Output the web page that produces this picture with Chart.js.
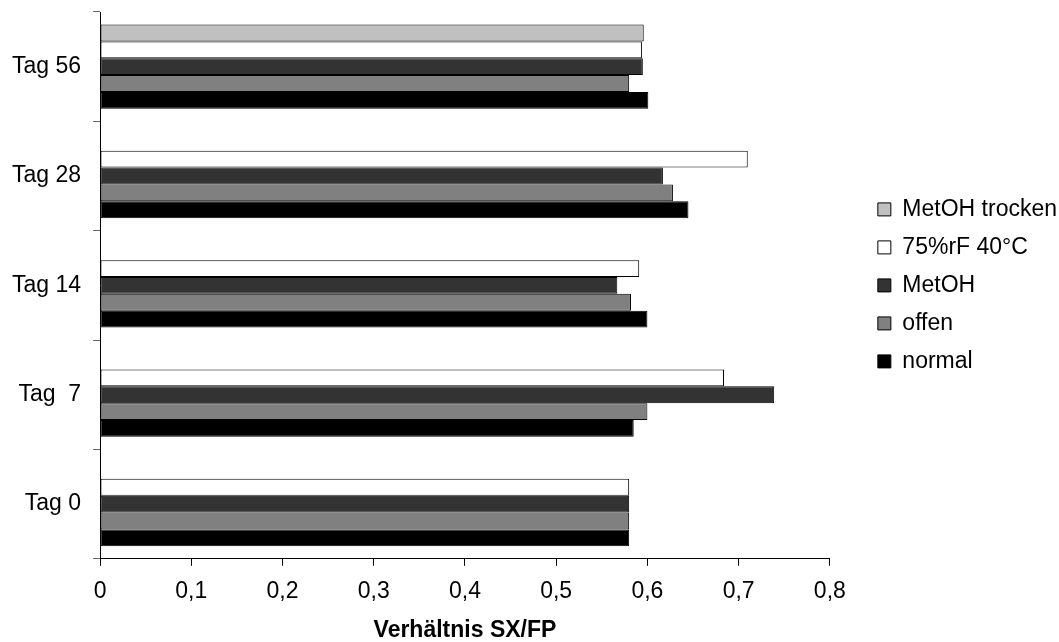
<!DOCTYPE html>
<html>
<head>
<meta charset="utf-8">
<script src="https://cdn.jsdelivr.net/npm/chart.js@4.4.1/dist/chart.umd.min.js"></script>
<style>
  body { margin: 0; background: #fff; }
  #wrap { width: 1059px; height: 642px; }
</style>
</head>
<body>
<div id="wrap"><canvas id="grafica" width="1059" height="642"></canvas></div>
<script>
// Kategorien (unten nach oben)
const tage = ['Tag 0', 'Tag  7', 'Tag 14', 'Tag 28', 'Tag 56']

// Werte je Lagerung
const metohTrocken = [null, null, null, null, 0.596]
const feucht40 = [0.58, 0.684, 0.591, 0.71, 0.594]
const metoh = [0.58, 0.739, 0.567, 0.617, 0.595]
const offen = [0.58, 0.6, 0.582, 0.628, 0.58]
const normal = [0.58, 0.585, 0.6, 0.645, 0.601]

const xTicks = ['0', '0,1', '0,2', '0,3', '0,4', '0,5', '0,6', '0,7', '0,8']

Chart.defaults.font.family = "'Liberation Sans', Arial, sans-serif"
Chart.defaults.color = '#000'

const serie = (label, data, color) => ({
    label,
    data,
    backgroundColor: color,
    borderColor: '#000',
    borderWidth: 1,
    borderSkipped: false
})

// Legende etwas vom Diagramm abrücken
const LUECKE = 33
const legendeAbstand = {
    id: 'legendeAbstand',
    beforeLayout(chart) {
        const leg = chart.legend
        if (leg && !leg._abstand) {
            const fit = leg.fit
            leg.fit = function () { fit.call(this); this.width += LUECKE }
            leg._abstand = true
        }
    },
    afterLayout(chart) {
        chart.legend.left += LUECKE
        chart.legend.right += LUECKE
    }
}

new Chart(document.getElementById('grafica'), {
    type: 'bar',
    data: {
        labels: tage,
        datasets: [
            serie('MetOH trocken', metohTrocken, '#c0c0c0'),
            serie('75%rF 40°C', feucht40, '#ffffff'),
            serie('MetOH', metoh, '#333333'),
            serie('offen', offen, '#808080'),
            serie('normal', normal, '#000000')
        ]
    },
    plugins: [legendeAbstand],
    options: {
        indexAxis: 'y',
        responsive: false,
        animation: false,
        categoryPercentage: 0.77,
        barPercentage: 1,
        layout: { padding: { top: 12, left: 0, right: -8, bottom: -2 } },
        plugins: {
            tooltip: { enabled: false },
            legend: {
                position: 'right',
                fullSize: false,
                labels: {
                    boxWidth: 13,
                    boxHeight: 13,
                    padding: 15,
                    font: { size: 23 }
                }
            }
        },
        scales: {
            x: {
                min: 0,
                max: 0.8,
                ticks: {
                    stepSize: 0.1,
                    font: { size: 23 },
                    padding: 12,
                    callback: (v, i) => xTicks[i]
                },
                grid: { drawOnChartArea: false, tickLength: 7, tickColor: '#000' },
                border: { color: '#000', width: 1 },
                title: {
                    display: true,
                    text: 'Verhältnis SX/FP',
                    font: { size: 23, weight: 'bold' },
                    padding: { top: -1, bottom: 0 }
                }
            },
            y: {
                reverse: true,
                ticks: { font: { size: 23 }, padding: 12 },
                grid: { offset: true, drawOnChartArea: false, tickLength: 7, tickColor: '#666' },
                border: { color: '#000', width: 1 },
                afterFit: s => { s.paddingTop = 0; s.paddingBottom = 0 }
            }
        }
    }
})
</script>
</body>
</html>
